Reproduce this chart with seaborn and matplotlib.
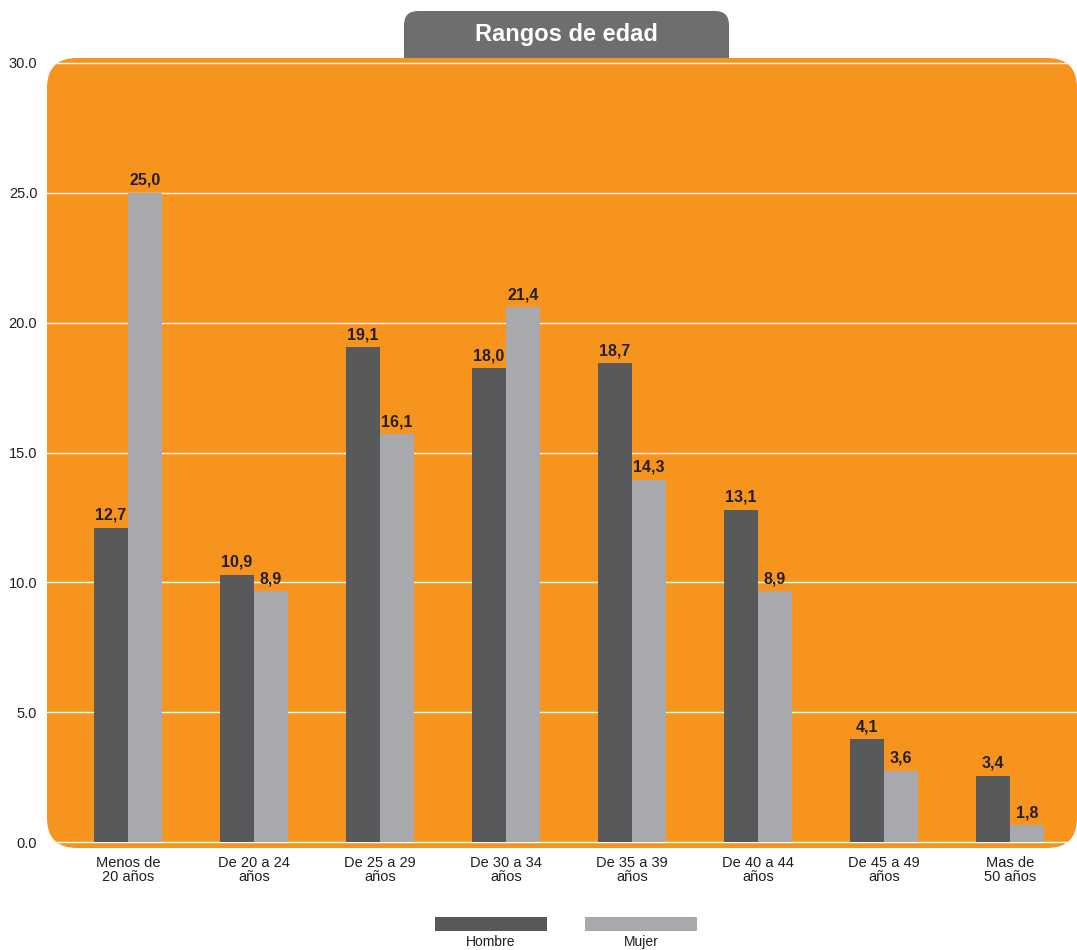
import pandas as pd
import numpy as np
import matplotlib.pyplot as plt
import seaborn as sns
from matplotlib.patches import FancyBboxPatch, Rectangle

rangos = ["Menos de\n20 años", "De 20 a 24\naños", "De 25 a 29\naños", "De 30 a 34\naños",
          "De 35 a 39\naños", "De 40 a 44\naños", "De 45 a 49\naños", "Mas de\n50 años"]
# bar heights as drawn in the picture
hombre = [12.1, 10.3, 19.05, 18.25, 18.45, 12.8, 3.95, 2.55]
mujer = [25.0, 9.65, 15.7, 20.6, 13.95, 9.65, 2.75, 0.65]
# numbers printed over the bars
hombre_txt = ["12,7", "10,9", "19,1", "18,0", "18,7", "13,1", "4,1", "3,4"]
mujer_txt = ["25,0", "8,9", "16,1", "21,4", "14,3", "8,9", "3,6", "1,8"]
series = ["Hombre", "Mujer"]
yticks = [0, 5, 10, 15, 20, 25, 30]

df = pd.DataFrame({
    "rango": rangos * 2,
    "sexo": ["Hombre"] * len(rangos) + ["Mujer"] * len(rangos),
    "valor": hombre + mujer,
})

sns.set_style("white")
plt.rcParams["font.family"] = ["Liberation Sans", "DejaVu Sans"]

W, H = 1077, 950
fig = plt.figure(figsize=(W / 100, H / 100), dpi=100)
ax = fig.add_axes([47 / W, 1 - 848 / H, 1030 / W, 790 / H])
ax.patch.set_visible(False)

naranja = "#f7941d"
colores = {"Hombre": "#58595b", "Mujer": "#a7a9ac"}

# rounded orange panel behind the plot
caja = FancyBboxPatch((47 / W, 1 - 848 / H), 1030 / W, 790 / H,
                      boxstyle="round,pad=0,rounding_size=%f" % (30 / W),
                      mutation_aspect=W / H, transform=fig.transFigure,
                      facecolor=naranja, edgecolor="none", zorder=-1)
fig.add_artist(caja)

# title tab
tab = FancyBboxPatch((404 / W, 1 - 80 / H), 325 / W, 69 / H,
                     boxstyle="round,pad=0,rounding_size=%f" % (14 / W),
                     mutation_aspect=W / H, transform=fig.transFigure,
                     facecolor="#6d6e70", edgecolor="none", zorder=-2)
fig.add_artist(tab)
fig.text(566 / W, 1 - 35 / H, "Rangos de edad", color="white", fontsize=17,
         fontweight="bold", ha="center", va="center")

sns.barplot(data=df, x="rango", y="valor", hue="sexo", palette=colores,
            width=0.54, saturation=1, legend=False, ax=ax, zorder=2,
            linewidth=0, edgecolor="none")

for cont, txt in zip(ax.containers, [hombre_txt, mujer_txt]):
    ax.bar_label(cont, labels=txt, padding=3.5, fontsize=11.5, fontweight="bold",
                 color="#231f20")

ax.set_ylim(-6 / 25.97, 30 + 5 / 25.97)
ax.set_xlim(-81 / 126, 7 + 67 / 126)
for y in yticks:
    gl = ax.axhline(y, color="white", lw=1.0, zorder=1)
    gl.set_clip_path(caja)

ax.set_yticks(yticks)
ax.set_yticklabels(["%.1f" % v for v in yticks])
ax.tick_params(axis="y", length=0, pad=7, labelsize=10.5, labelcolor="#231f20")
ax.tick_params(axis="x", length=0, pad=6, labelsize=10.5, labelcolor="#231f20")
for lab in ax.get_xticklabels():
    lab.set_linespacing(1.0)
ax.set_xlabel("")
ax.set_ylabel("")
sns.despine(ax=ax, left=True, bottom=True)

# legend below the chart
for x0, s in zip([435, 585], series):
    fig.add_artist(Rectangle((x0 / W, 1 - 931 / H), 112 / W, 14 / H,
                             transform=fig.transFigure, facecolor=colores[s],
                             edgecolor="none"))
    fig.text((x0 + 56) / W, 1 - 942 / H, s, fontsize=10, color="#231f20",
             ha="center", va="center")

fig.savefig("out.png", dpi=100)
